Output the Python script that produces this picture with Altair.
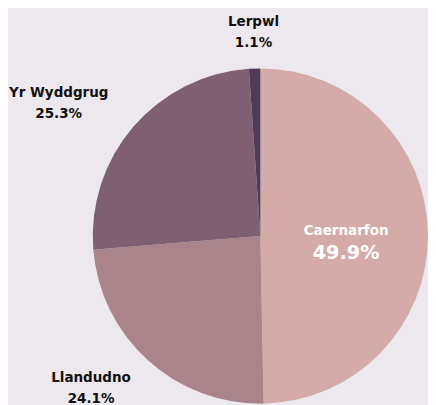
import altair as alt
import pandas as pd

names = ["Caernarfon", "Llandudno", "Yr Wyddgrug", "Lerpwl"]
values = [49.9, 24.1, 25.3, 1.1]
colors = ["#d5aba9", "#ab838b", "#7e6072", "#4f3b58"]
inside = [True, False, False, False]

df = pd.DataFrame({"name": names, "value": values, "order": list(range(len(names))), "inside": inside})

CX, CY, R = 262, 226, 174
FONT = "DejaVu Sans"

base = alt.Chart(df)

pie = base.mark_arc(radius=R, strokeWidth=0).encode(
    theta=alt.Theta("value:Q", stack=True),
    color=alt.Color("name:N", scale=alt.Scale(domain=names, range=colors), legend=None),
    order=alt.Order("order:Q"),
    x=alt.value(CX),
    y=alt.value(CY),
)

lab = base.transform_window(
    cum="sum(value)", sort=[alt.SortField("order")], frame=[None, 0]
).transform_joinaggregate(
    total="sum(value)"
).transform_calculate(
    mid="(datum.cum - datum.value/2) / datum.total * 2 * PI",
    rx="datum.inside ? 89 : 208",
    ry="datum.inside ? 89 : 212",
    cy=f"datum.inside ? {CY} : {CY + 1}",
).transform_calculate(
    lx=f"{CX} + datum.rx * sin(datum.mid) - (sin(datum.mid) < -0.3 ? length(datum.name) * 7.7 - 33 : 0)",
    ly="datum.cy - datum.ry * cos(datum.mid)",
    pct="format(datum.value, '.1f') + '%'",
)

pos = dict(x=alt.X("lx:Q", scale=None, axis=None), y=alt.Y("ly:Q", scale=None, axis=None))

out_name = lab.transform_filter("!datum.inside").mark_text(
    font=FONT, fontWeight="bold", fontSize=14, color="#111111", dy=-11, align="center", baseline="middle"
).encode(text="name:N", **pos)
out_pct = lab.transform_filter("!datum.inside").mark_text(
    font=FONT, fontWeight="bold", fontSize=14, color="#111111", dy=11, align="center", baseline="middle"
).encode(text="pct:N", **pos)
in_name = lab.transform_filter("datum.inside").mark_text(
    font=FONT, fontWeight="bold", fontSize=14, color="#ffffff", dy=-4, align="center", baseline="middle"
).encode(text="name:N", **pos)
in_pct = lab.transform_filter("datum.inside").mark_text(
    font=FONT, fontWeight="bold", fontSize=20, color="#ffffff", dy=19, align="center", baseline="middle"
).encode(text="pct:N", **pos)

chart = alt.layer(pie, out_name, out_pct, in_name, in_pct).properties(
    width=420, height=389, padding=0, background="#ede8ee"
).configure_view(stroke=None)

chart.save("out.html", embed_options={"renderer": "svg", "actions": False})
